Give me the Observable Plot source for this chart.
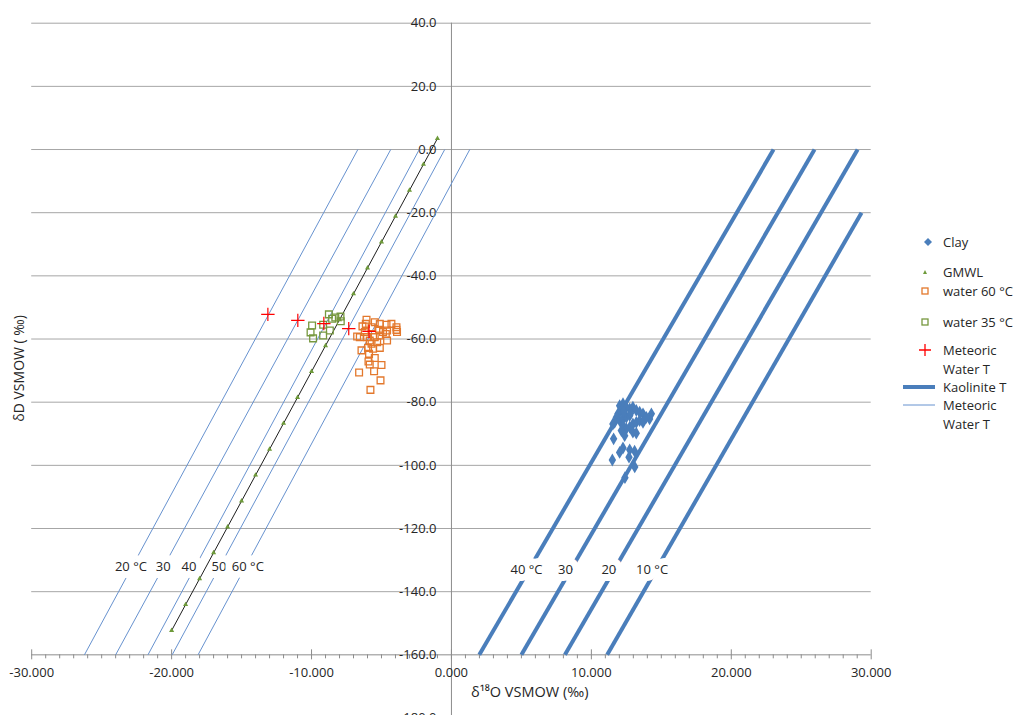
<!DOCTYPE html>
<html><head><meta charset="utf-8">
<script src="https://cdn.jsdelivr.net/npm/d3@7"></script>
<script src="https://cdn.jsdelivr.net/npm/@observablehq/plot@0.6"></script>
<style>
body{margin:0;background:#fff;font-family:"Open Sans",sans-serif;}
#wrap{position:relative;width:1019px;height:715px;overflow:hidden;background:#fff;}
.lg{position:absolute;font-size:13px;color:#262626;line-height:18px;white-space:nowrap;}
.sym{position:absolute;}
</style></head><body><div id="wrap"></div>
<script>
// ---- data ----
const clayX = [12.02,12.26,12.5,12.74,12.97,13.21,13.45,13.69,14.29,14.16,12.14,11.9,11.79,11.66,12.02,12.26,12.5,12.74,12.26,12.5,12.74,12.97,13.21,13.45,12.97,13.21,13.69,13.93,12.14,12.38,11.54,11.59,12.26,12.02,12.74,13.09,11.5,12.69,12.4,13.1,12.3,12.8];
const clayY = [-81.1,-80.5,-81.6,-82.1,-81.6,-82.6,-83.2,-83.7,-83.7,-85.3,-82.6,-83.7,-84.8,-86.4,-85.8,-85.3,-84.8,-84.2,-87.4,-88.4,-87.9,-86.9,-86.4,-85.8,-89.5,-89.8,-86.4,-84.8,-89.0,-90.6,-86.9,-91.6,-94.5,-95.9,-95.1,-95.5,-98.3,-97.4,-103.9,-100.5,-83.0,-83.5];

const gmwlX = [-20,-19,-18,-17,-16,-15,-14,-13,-12,-11,-10,-9,-8,-7,-6,-5,-4,-3,-2,-1];
const gmwlY = [-152.3,-144.1,-135.9,-127.7,-119.5,-111.3,-103.1,-94.9,-86.7,-78.5,-70.3,-62.1,-53.9,-45.7,-37.5,-29.3,-21.1,-12.9,-4.7,3.5];

const w60X = [-6.07,-5.48,-5.12,-4.64,-4.29,-3.93,-3.89,-4.6,-4.89,-5.17,-5.71,-6.12,-6.36,-6.19,-6.55,-6.03,-5.84,-5.48,-5.12,-4.69,-5.31,-5.71,-5.96,-5.6,-6.43,-5.12,-5.89,-5.48,-5.93,-5.84,-5.0,-5.53,-6.6,-5.07,-5.79,-6.74,-4.6,-3.93];
const w60Y = [-53.9,-54.7,-55.2,-55.5,-55.2,-56.3,-57.8,-57.3,-57.8,-57.1,-56.3,-55.2,-56.0,-57.8,-59.4,-59.4,-60.5,-59.4,-58.9,-58.4,-61.0,-61.5,-62.8,-63.1,-63.6,-62.8,-64.7,-66.0,-67.1,-68.1,-68.2,-70.2,-70.6,-73.1,-76.1,-59.2,-60.5,-57.1];

const w35X = [-8.76,-8.53,-7.93,-7.91,-9.96,-10.07,-9.89,-9.17,-8.69,-9.17,-8.3];
const w35Y = [-52.2,-53.6,-52.9,-54.4,-55.7,-57.9,-59.8,-58.9,-57.3,-55.5,-53.2];

const mwtX = [-13.12,-10.98,-9.12,-7.34,-5.89];
const mwtY = [-52.2,-54.1,-55.1,-56.7,-57.6];

// Meteoric Water T lines (thin): temperature, δ18O at δD=0 and at δD=-160
const metTemps = [20,30,40,50,60];
const metTopX = [-6.69,-4.34,-2.3,-0.48,1.31];
const metBotX = [-26.23,-24.0,-21.69,-19.96,-18.11];
const metTopY = [0,0,0,0,0];
const metBotY = [-160,-160,-160,-160,-160];

// Kaolinite T lines (thick)
const kaoTemps = [40,30,20,10];
const kaoTopX = [23.02,25.95,29.03,29.31];
const kaoTopY = [0,0,0,-20];
const kaoBotX = [1.99,5.0,8.11,11.13];
const kaoBotY = [-160,-160,-160,-160];

const metLabelText = ["20 °C","30","40","50","60 °C"];
const metLabelX = [-22.91,-20.6,-18.76,-16.62,-14.55];
const metLabelY = -132.2;
const kaoLabelText = ["40 °C","30","20","10 °C"];
const kaoLabelX = [5.36,8.15,11.25,14.34];
const kaoLabelY = -133.0;

const xTicks = [-30,-20,-10,0,10,20,30];
const xMinor = d3.range(-30,31,1).filter(v => v % 10 !== 0);
const yTicks = [40,20,0,-20,-40,-60,-80,-100,-120,-140,-160,-180];
const gridY = [40,20,0,-20,-40,-60,-80,-100,-120,-140];

const xTitle = "δ¹⁸O VSMOW (‰)";
const yTitle = "δD VSMOW ( ‰)";

// ---- tables ----
const zip = (xs, ys) => xs.map((x,i) => ({x, y: ys[i]}));
const clay = zip(clayX, clayY), gmwl = zip(gmwlX, gmwlY), w60 = zip(w60X, w60Y), w35 = zip(w35X, w35Y), mwt = zip(mwtX, mwtY);
const metLines = metTemps.map((t,i) => ({t, x1: metTopX[i], y1: metTopY[i], x2: metBotX[i], y2: metBotY[i]}));
const kaoLines = kaoTemps.map((t,i) => ({t, x1: kaoTopX[i], y1: kaoTopY[i], x2: kaoBotX[i], y2: kaoBotY[i]}));
const metLabels = metLabelText.map((s,i) => ({s, x: metLabelX[i], y: metLabelY}));
const kaoLabels = kaoLabelText.map((s,i) => ({s, x: kaoLabelX[i], y: kaoLabelY}));

const gridColor = "#a6a6a6", axisColor = "#8c8c8c", txt = "#262626";
const blue = "#4a7ebb", thinBlue = "#6792cf", orange = "#e3782c", green = "#77983f", gmwlGreen = "#6e9a3a";

const chart = Plot.plot({
  width: 1019, height: 715,
  x: {domain: [-30, 30], range: [31.2, 870.7], axis: null},
  y: {domain: [-180, 40], range: [717.5, 22.7], axis: null},
  style: {fontFamily: "'Open Sans', sans-serif", fontSize: "13px", color: txt, background: "transparent", overflow: "visible"},
  marks: [
    Plot.ruleY(gridY, {x1: -30, x2: 30, stroke: gridColor, strokeWidth: 1}),
    Plot.ruleY([-160], {x1: -30, x2: 30, stroke: axisColor, strokeWidth: 1}),
    Plot.ruleX([0], {y1: -180, y2: 40, stroke: axisColor, strokeWidth: 1}),
    Plot.ruleX(xMinor, {x: d => d, y1: -160, y2: -160, insetTop: 0, insetBottom: -4, stroke: axisColor}),
    Plot.ruleX(xTicks, {x: d => d, y1: -160, y2: -160, insetTop: -5, insetBottom: -5, stroke: axisColor}),
    Plot.text(yTicks, {x: 0, y: d => d, dx: -15, textAnchor: "end", text: d => d.toFixed(1), fill: txt}),
    Plot.text(xTicks, {x: d => d, y: -160, dy: 18, text: d => d.toFixed(3), fill: txt}),
    Plot.link(metLines, {x1: "x1", y1: "y1", x2: "x2", y2: "y2", stroke: thinBlue, strokeWidth: 1}),
    Plot.link(kaoLines, {x1: "x1", y1: "y1", x2: "x2", y2: "y2", stroke: blue, strokeWidth: 4}),
    Plot.text(metLabels, {x: "x", y: "y", text: "s", fill: txt, stroke: "white", strokeWidth: 14, paintOrder: "stroke", strokeLinejoin: "round"}),
    Plot.text(kaoLabels, {x: "x", y: "y", text: "s", fill: txt, stroke: "white", strokeWidth: 14, paintOrder: "stroke", strokeLinejoin: "round"}),
    Plot.line(gmwl, {x: "x", y: "y", stroke: "#1e1e1e", strokeWidth: 1}),
    Plot.dot(gmwl, {x: "x", y: "y", symbol: "triangle", r: 1.9, fill: gmwlGreen}),
    Plot.dot(clay, {x: "x", y: "y", symbol: "diamond", r: 3.9, fill: blue}),
    Plot.dot(w60, {x: "x", y: "y", symbol: "square", r: 3.8, fill: "none", stroke: orange, strokeWidth: 1.3}),
    Plot.dot(w35, {x: "x", y: "y", symbol: "square", r: 3.8, fill: "none", stroke: green, strokeWidth: 1.3}),
    Plot.dot(mwt, {x: "x", y: "y", symbol: "plus", r: 4.4, stroke: "#ff0000", strokeWidth: 1.2}),
    Plot.text([xTitle], {x: 1.4, y: -160, dy: 38, textAnchor: "start", text: d => d, fill: txt, fontSize: 14.5}),
    Plot.text([yTitle], {x: -30.9, y: -69.3, textAnchor: "middle", lineAnchor: "middle", rotate: -90, text: d => d, fill: txt, fontSize: 14})
  ]
});
const wrap = document.getElementById("wrap");
chart.style.position = "absolute"; chart.style.left = "0"; chart.style.top = "0";
wrap.appendChild(chart);

// ---- legend (HTML) ----
const legendItems = [
  {lines: ["Clay"], sym: "diamond", color: blue},
  {lines: ["GMWL"], sym: "triangle", color: gmwlGreen},
  {lines: ["water 60 °C"], sym: "square", color: orange},
  {lines: ["water 35 °C"], sym: "square", color: green},
  {lines: ["Meteoric", "Water T"], sym: "plus", color: "#ff0000"},
  {lines: ["Kaolinite T"], sym: "thick", color: blue},
  {lines: ["Meteoric", "Water T"], sym: "thin", color: thinBlue}
];
const legendTop = [241.7, 271.7, 291, 321.7, 350, 386.7, 405];
const lineGap = 19;
function symSvg(sym, color) {
  if (sym === "diamond") return `<svg width="12" height="12"><path d="M6,2 L10,6 L6,10 L2,6Z" fill="${color}"/></svg>`;
  if (sym === "triangle") return `<svg width="12" height="12"><path d="M6,4 L8,8 L4,8Z" fill="${color}"/></svg>`;
  if (sym === "square") return `<svg width="12" height="12"><rect x="3" y="3" width="6" height="6" fill="none" stroke="${color}" stroke-width="1.3"/></svg>`;
  if (sym === "plus") return `<svg width="14" height="14"><path d="M7,1V13M1,7H13" stroke="${color}" stroke-width="1.3"/></svg>`;
  if (sym === "thick") return `<svg width="34" height="8"><line x1="1" y1="4" x2="33" y2="4" stroke="${color}" stroke-width="4"/></svg>`;
  if (sym === "thin") return `<svg width="34" height="8"><line x1="1" y1="4" x2="33" y2="4" stroke="${color}" stroke-width="1"/></svg>`;
}
legendItems.forEach((it, i) => {
  const cy = legendTop[i];
  const s = document.createElement("div");
  s.className = "sym";
  s.innerHTML = symSvg(it.sym, it.color);
  const isLine = it.sym === "thick" || it.sym === "thin";
  const w = isLine ? 34 : (it.sym === "plus" ? 14 : 12);
  const h = isLine ? 8 : (it.sym === "plus" ? 14 : 12);
  const cx = isLine ? 919 : (it.sym === "diamond" ? 928 : 925);
  s.style.left = (cx - w/2) + "px"; s.style.top = (cy - h/2) + "px";
  s.style.lineHeight = "0";
  wrap.appendChild(s);
  it.lines.forEach((t, j) => {
    const d = document.createElement("div");
    d.className = "lg";
    d.textContent = t;
    d.style.left = "943px";
    d.style.top = (cy + j*lineGap - 9) + "px";
    wrap.appendChild(d);
  });
});
</script>
</body></html>
